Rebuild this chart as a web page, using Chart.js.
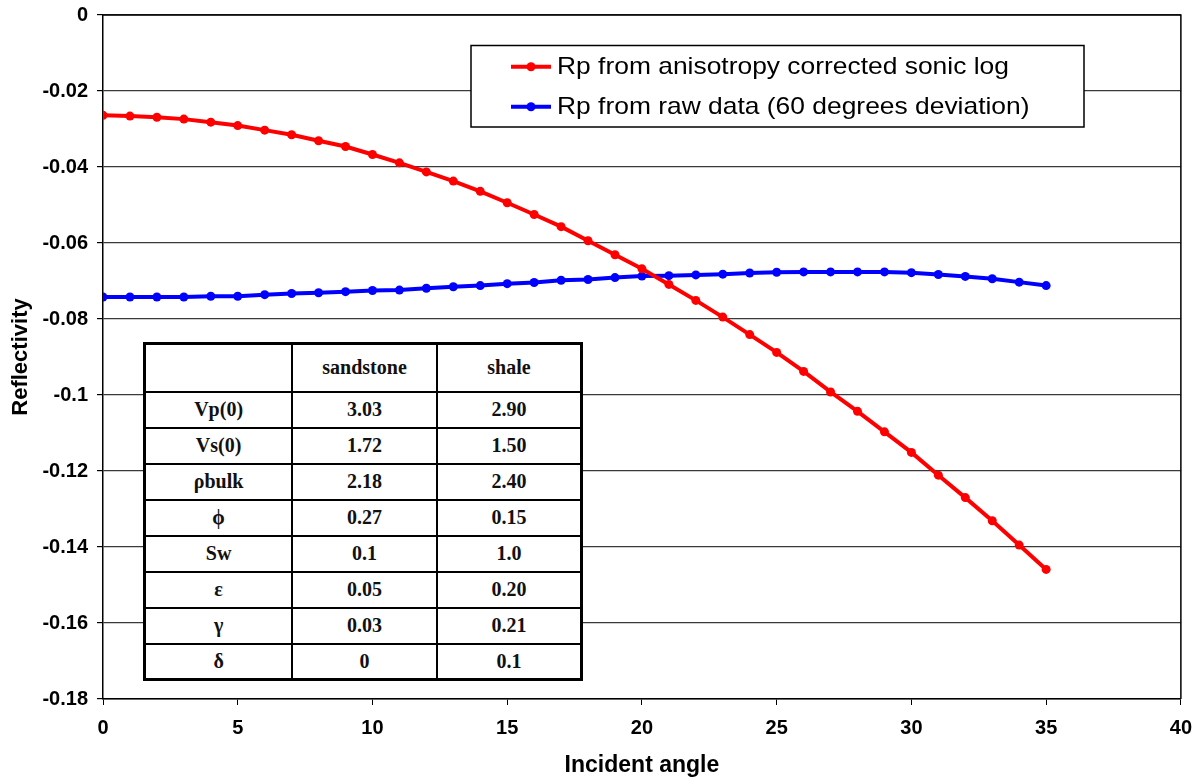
<!DOCTYPE html>
<html>
<head>
<meta charset="utf-8">
<script src="https://cdn.jsdelivr.net/npm/chart.js@4.4.1/dist/chart.umd.min.js"></script>
<style>
  html, body { margin: 0; padding: 0; background: #fff; }
  #wrap { position: relative; width: 1203px; height: 780px; }
  #chart { position: absolute; left: 0; top: 0; }
  #props {
    position: absolute; left: 143px; top: 342px; width: 440px; height: 336px;
    border-collapse: collapse; background: #fff; border: 3px solid #000;
    font-family: "Liberation Serif", "Times New Roman", serif; font-weight: bold; font-size: 20px;
    color: #111; box-sizing: border-box;
  }
  #props td { border: 2px solid #000; text-align: center; padding: 0; }
</style>
</head>
<body>
<div id="wrap">
  <canvas id="chart" width="1203" height="780"></canvas>
  <table id="props"></table>
</div>
<script>
// incident angles (degrees)
const angles = [0, 1, 2, 3, 4, 5, 6, 7, 8, 9, 10, 11, 12, 13, 14, 15, 16, 17, 18, 19,
                20, 21, 22, 23, 24, 25, 26, 27, 28, 29, 30, 31, 32, 33, 34, 35];

// Rp from anisotropy corrected sonic log
const rpCorrected = [-0.0264, -0.0266, -0.0269, -0.0274, -0.0282, -0.0291, -0.0303, -0.0315, -0.0331, -0.0346,
                     -0.0367, -0.0389, -0.0413, -0.0437, -0.0464, -0.0494, -0.0525, -0.0557, -0.0594, -0.0631,
                     -0.0668, -0.0709, -0.0751, -0.0795, -0.0841, -0.0888, -0.0938, -0.0992, -0.1043, -0.1097,
                     -0.1151, -0.1211, -0.1270, -0.1331, -0.1395, -0.1459];

// Rp from raw data (60 degrees deviation)
const rpRaw = [-0.0742, -0.0742, -0.0742, -0.0742, -0.0740, -0.0740, -0.0736, -0.0733, -0.0731, -0.0728,
               -0.0725, -0.0724, -0.0719, -0.0715, -0.0712, -0.0707, -0.0704, -0.0698, -0.0696, -0.0691,
               -0.0687, -0.0686, -0.0684, -0.0682, -0.0679, -0.0677, -0.0676, -0.0676, -0.0676, -0.0676,
               -0.0678, -0.0683, -0.0688, -0.0694, -0.0703, -0.0712];

const seriesNames = ['Rp from anisotropy corrected sonic log', 'Rp from raw data (60 degrees deviation)'];

// rock property table
const tableHead = ['', 'sandstone', 'shale'];
const propNames = ['Vp(0)', 'Vs(0)', 'ρbulk', 'ϕ', 'Sw', 'ε', 'γ', 'δ'];
const sandstoneVals = ['3.03', '1.72', '2.18', '0.27', '0.1', '0.05', '0.03', '0'];
const shaleVals = ['2.90', '1.50', '2.40', '0.15', '1.0', '0.20', '0.21', '0.1'];

// build the table
const tbl = document.getElementById('props');
const colW = [149, 145, 146];
let html = '<tr style="height:48px">' + tableHead.map((h, i) => `<td style="width:${colW[i]}px">${h}</td>`).join('') + '</tr>';
propNames.forEach((p, i) => {
    html += `<tr style="height:36px"><td>${p}</td><td>${sandstoneVals[i]}</td><td>${shaleVals[i]}</td></tr>`;
});
tbl.innerHTML = html;

const sansFont = '"Liberation Sans", Arial, sans-serif';
const gridCol = '#3a3a3a';

// plot border + boxed legend drawn on the canvas
const frameAndLegend = {
    id: 'frameAndLegend',
    beforeDatasetsDraw(chart) {
        const { ctx, chartArea: a } = chart;
        ctx.save();
        ctx.strokeStyle = '#000';
        ctx.lineWidth = 1.5;
        ctx.beginPath();
        ctx.moveTo(a.left, a.top);
        ctx.lineTo(a.right, a.top);
        ctx.lineTo(a.right, a.bottom);
        ctx.stroke();
        ctx.restore();
    },
    afterDraw(chart) {
        const { ctx } = chart;
        const box = { x: 471, y: 45.5, w: 613, h: 81.5 };
        ctx.save();
        ctx.fillStyle = '#fff';
        ctx.fillRect(box.x, box.y, box.w, box.h);
        ctx.strokeStyle = '#000';
        ctx.lineWidth = 1.5;
        ctx.strokeRect(box.x, box.y, box.w, box.h);
        chart.data.datasets.forEach((ds, i) => {
            const y = 66.7 + i * 40;
            ctx.strokeStyle = ds.borderColor;
            ctx.lineWidth = 4;
            ctx.beginPath();
            ctx.moveTo(511, y);
            ctx.lineTo(551, y);
            ctx.stroke();
            ctx.fillStyle = ds.borderColor;
            ctx.beginPath();
            ctx.arc(531, y, 4.5, 0, Math.PI * 2);
            ctx.fill();
            // the original legend font is a little wider than Liberation Sans
            ctx.save();
            ctx.translate(557, y + 1);
            ctx.scale(1.1, 1);
            ctx.fillStyle = '#000';
            ctx.font = '24px ' + sansFont;
            ctx.textBaseline = 'middle';
            ctx.fillText(ds.label, 0, 0);
            ctx.restore();
        });
        ctx.restore();
    }
};

new Chart(document.getElementById('chart'), {
    type: 'line',
    data: {
        labels: angles,
        datasets: [
            { label: seriesNames[0], data: angles.map((a, i) => ({ x: a, y: rpCorrected[i] })),
              borderColor: '#ff0000', backgroundColor: '#ff0000', borderWidth: 4,
              pointRadius: 4.5, pointBorderWidth: 0, tension: 0 },
            { label: seriesNames[1], data: angles.map((a, i) => ({ x: a, y: rpRaw[i] })),
              borderColor: '#0000ff', backgroundColor: '#0000ff', borderWidth: 4,
              pointRadius: 4.5, pointBorderWidth: 0, tension: 0 }
        ]
    },
    options: {
        responsive: false, animation: false,
        layout: { padding: { top: 15, right: 19, left: 0, bottom: 0 } },
        plugins: { legend: { display: false }, tooltip: { enabled: false } },
        scales: {
            x: {
                type: 'linear', min: 0, max: 40,
                afterFit: s => { s.height = 81; },
                ticks: { stepSize: 5, color: '#000', padding: 11, font: { family: sansFont, size: 20, weight: 'bold' } },
                grid: { drawOnChartArea: false, drawTicks: true, tickLength: 6, color: '#000' },
                border: { color: '#000', width: 1.5 },
                title: { display: true, text: 'Incident angle', color: '#000', padding: { top: 0, bottom: 1 },
                         font: { family: sansFont, size: 23, weight: 'bold' } }
            },
            y: {
                min: -0.18, max: 0,
                afterFit: s => { s.width = 103; s.paddingTop = 0; s.paddingBottom = 0; },
                ticks: { stepSize: 0.02, color: '#000', padding: 9, font: { family: sansFont, size: 20, weight: 'bold' },
                         callback: v => String(Number(v.toFixed(2))) },
                grid: { color: gridCol, lineWidth: 1.2, tickLength: 6, tickColor: '#000' },
                border: { color: '#000', width: 1.5 },
                title: { display: true, text: 'Reflectivity', color: '#000', padding: { top: 8, bottom: 0 },
                         font: { family: sansFont, size: 22, weight: 'bold' } }
            }
        }
    },
    plugins: [frameAndLegend]
});
</script>
</body>
</html>
